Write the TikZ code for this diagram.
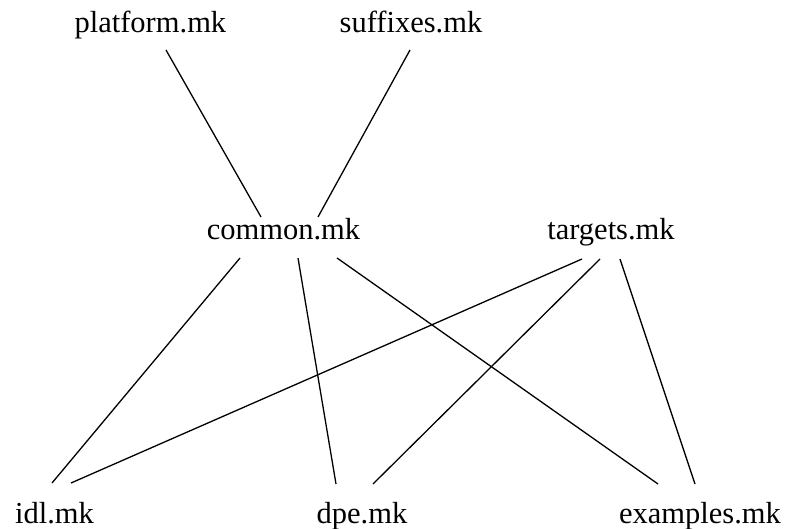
\documentclass[tikz,border=0pt]{standalone}
\usepackage{fontspec}
\setmainfont{Liberation Serif}
\usetikzlibrary{positioning}

\begin{document}
\begin{tikzpicture}[x=1pt, y=-1pt,
mk/.style={anchor=base, inner sep=0pt, font=\fontsize{30.5}{36}\selectfont},
dep/.style={draw, line width=1.3pt}]
\useasboundingbox (0,0) rectangle (792,529);
\node [mk] (platform) at (150.4,33) {platform.mk};
\node [mk] (suffixes) at (411,33) {suffixes.mk};
\node [mk] (common) at (283.5,240) {common.mk};
\node [mk] (targets) at (611,240) {targets.mk};
\node [mk] (idl) at (54.5,523) {idl.mk};
\node [mk] (dpe) at (362,523) {dpe.mk};
\node [mk] (examples) at (700,523) {examples.mk};
% includes
\path [dep] ([shift={(15.6,17)}]platform.base) -- ([shift={(-22.5,-23)}]common.base);
\path [dep] ([shift={(-1,17)}]suffixes.base) -- ([shift={(34.5,-23)}]common.base);
\path [dep] ([shift={(-43.5,18)}]common.base) -- ([shift={(-2.5,-40)}]idl.base);
\path [dep] ([shift={(14.5,18)}]common.base) -- ([shift={(-26,-39)}]dpe.base);
\path [dep] ([shift={(53.5,18)}]common.base) -- ([shift={(-42,-39)}]examples.base);
\path [dep] ([shift={(-29,19)}]targets.base) -- ([shift={(16.5,-40)}]idl.base);
\path [dep] ([shift={(-11,19)}]targets.base) -- ([shift={(11,-39)}]dpe.base);
\path [dep] ([shift={(9,19)}]targets.base) -- ([shift={(-5,-39)}]examples.base);
\end{tikzpicture}
\end{document}
